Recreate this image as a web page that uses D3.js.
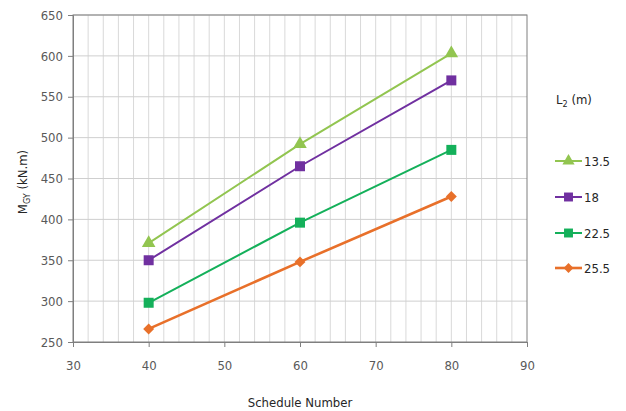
<!DOCTYPE html>
<html><head><meta charset="utf-8">
<script src="https://cdn.jsdelivr.net/npm/d3@7"></script>
<style>body{margin:0;background:#fff;}svg{display:block;font-family:"DejaVu Sans",Verdana,sans-serif;}</style>
</head><body>
<svg id="c" width="626" height="411"></svg>
<script>
const scheduleNumbers = [40, 60, 80];
const seriesNames = ["13.5", "18", "22.5", "25.5"];
const s135 = [371, 492, 603];
const s18 = [350, 465, 570];
const s225 = [298, 396, 485];
const s255 = [266, 348, 428];
const xTicks = [30, 40, 50, 60, 70, 80, 90];
const yTicks = [250, 300, 350, 400, 450, 500, 550, 600, 650];
const colors = ["#92C550", "#7030A0", "#14B05A", "#E8702A"];
const symbols = ["triangle", "square", "square", "diamond"];

const series = [s135, s18, s225, s255].map((v, i) => ({name: seriesNames[i], values: v, color: colors[i], sym: symbols[i]}));

const svg = d3.select("#c");
const L = 73, R = 527, T = 15, B = 342;
const x = d3.scaleLinear().domain([30, 90]).range([L, R]);
const y = d3.scaleLinear().domain([250, 650]).range([B, T]);
const FONT = "'DejaVu Sans Condensed','DejaVu Sans',sans-serif";

// vertical gridlines every 2 units
const g = svg.append("g");
g.selectAll(".vg").data(d3.range(32, 90, 2)).enter().append("line")
  .attr("x1", d => x(d)).attr("x2", d => x(d)).attr("y1", T).attr("y2", B)
  .attr("stroke", "#d9d9d9").attr("stroke-width", 1);
g.selectAll(".hg").data(yTicks.slice(1)).enter().append("line")
  .attr("x1", L).attr("x2", R).attr("y1", d => y(d)).attr("y2", d => y(d))
  .attr("stroke", "#cfcfcf").attr("stroke-width", 1);
svg.append("rect").attr("x", L).attr("y", T).attr("width", R - L).attr("height", B - T)
  .attr("fill", "none").attr("stroke", "#7f7f7f").attr("stroke-width", 1);

// axes
const xAxis = svg.append("g").attr("transform", `translate(0,${B})`)
  .call(d3.axisBottom(x).tickValues(xTicks).tickSize(5).tickPadding(14));
const yAxis = svg.append("g").attr("transform", `translate(${L},0)`)
  .call(d3.axisLeft(y).tickValues(yTicks).tickSize(5).tickPadding(5));
[xAxis, yAxis].forEach(a => {
  a.select(".domain").attr("stroke", "#7f7f7f");
  a.selectAll(".tick line").attr("stroke", "#7f7f7f");
  a.selectAll("text").attr("fill", "#595959").style("font-size", "13px").style("font-family", FONT);
});

// lines and markers
const line = d3.line().x((d, i) => x(scheduleNumbers[i])).y(d => y(d));
const symType = {triangle: d3.symbolTriangle, square: d3.symbolSquare, diamond: d3.symbolSquare};
const symSize = {triangle: 80, square: 100, diamond: 60};
const symRot = {triangle: 0, square: 0, diamond: 45};
series.forEach(s => {
  svg.append("path").datum(s.values).attr("d", line)
    .attr("fill", "none").attr("stroke", s.color).attr("stroke-width", s.sym === "diamond" ? 2.6 : 2);
  svg.selectAll(null).data(s.values).enter().append("path")
    .attr("d", d3.symbol().type(symType[s.sym]).size(symSize[s.sym]))
    .attr("transform", (d, i) => `translate(${x(scheduleNumbers[i])},${y(d)}) rotate(${symRot[s.sym]})`)
    .attr("fill", s.color);
});

// axis titles
svg.append("text").attr("x", 300).attr("y", 407).attr("text-anchor", "middle")
  .attr("fill", "#262626").style("font-size", "13px").style("font-family", FONT)
  .text("Schedule Number");
const yl = svg.append("text").attr("transform", "translate(27,182) rotate(-90)").attr("text-anchor", "middle")
  .attr("fill", "#262626").style("font-size", "13px").style("font-family", FONT);
yl.append("tspan").text("M");
yl.append("tspan").attr("dy", 3).style("font-size", "9px").text("GY");
yl.append("tspan").attr("dy", -3).text(" (kN.m)");

// legend
const lt = svg.append("text").attr("x", 556).attr("y", 104)
  .attr("fill", "#262626").style("font-size", "13px").style("font-family", FONT);
lt.append("tspan").text("L");
lt.append("tspan").attr("dy", 3).style("font-size", "9px").text("2");
lt.append("tspan").attr("dy", -3).text(" (m)");
const legY = [161, 197, 233, 268];
series.forEach((s, i) => {
  const lg = svg.append("g").attr("transform", `translate(0,${legY[i]})`);
  lg.append("line").attr("x1", 555).attr("x2", 582).attr("y1", 0).attr("y2", 0)
    .attr("stroke", s.color).attr("stroke-width", s.sym === "diamond" ? 2.6 : 2);
  lg.append("path").attr("d", d3.symbol().type(symType[s.sym]).size(symSize[s.sym] * 0.8))
    .attr("transform", `translate(568.5,0) rotate(${symRot[s.sym]})`).attr("fill", s.color);
  lg.append("text").attr("x", 584).attr("y", 5).attr("fill", "#262626")
    .style("font-size", "13px").style("font-family", FONT).text(s.name);
});
</script>
</body></html>
